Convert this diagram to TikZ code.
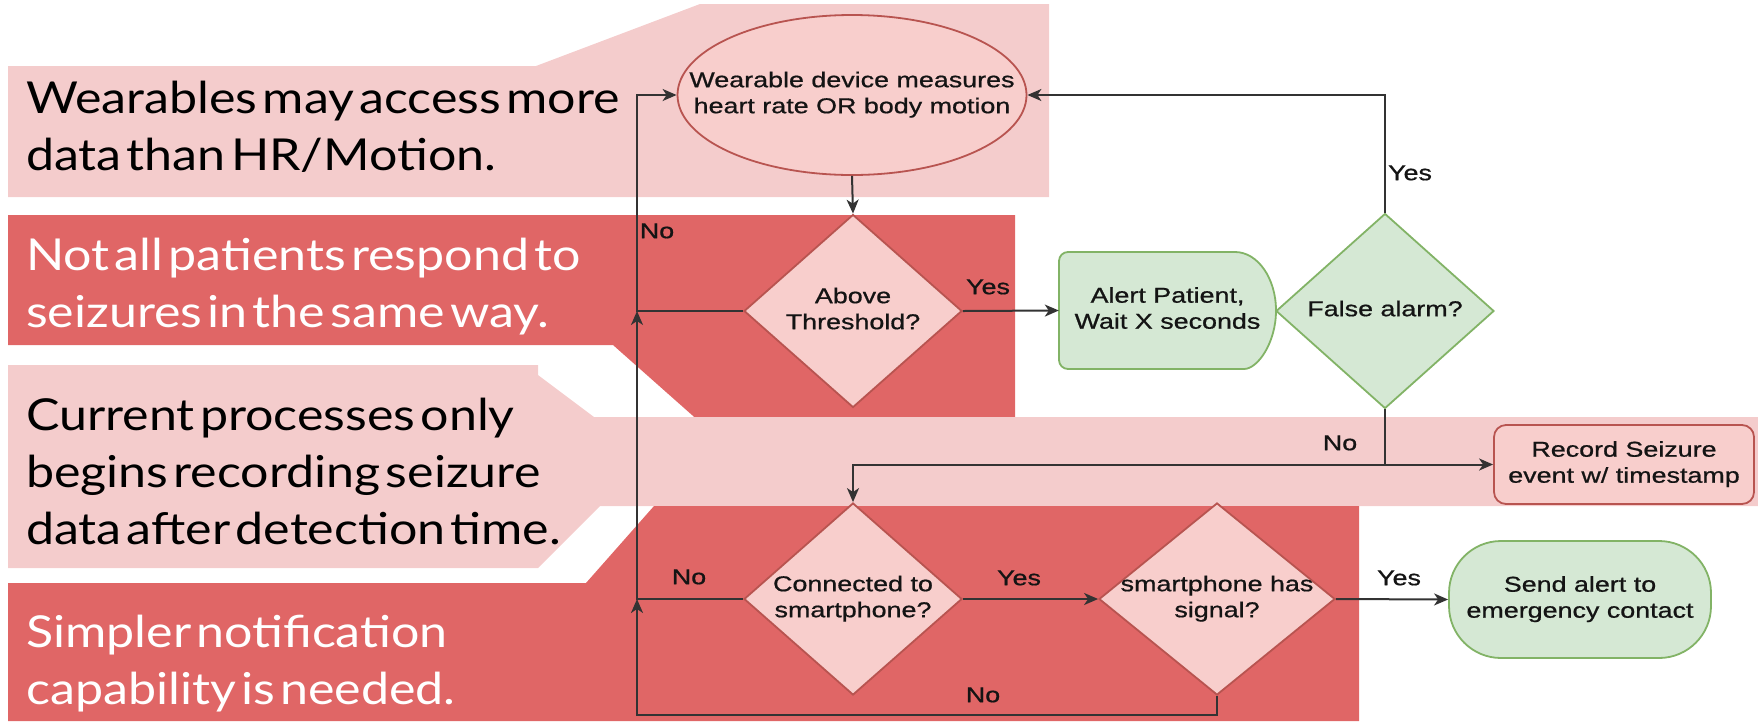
\documentclass[tikz,border=0pt]{standalone}
\usepackage{fontspec}
\usepackage{graphicx}
\setmainfont{Lato}[WordSpace=0.4]
\newfontfamily\fcfont{Liberation Sans}[FakeBold=0.7]
\usetikzlibrary{shapes.geometric,arrows.meta}
\definecolor{calLight}{HTML}{F4CCCC}
\definecolor{calDark}{HTML}{E06666}
\definecolor{pinkFill}{HTML}{F8CECC}
\definecolor{pinkLine}{HTML}{B85450}
\definecolor{greenFill}{HTML}{D5E8D4}
\definecolor{greenLine}{HTML}{82B366}
\definecolor{lineCol}{HTML}{333333}
\definecolor{fcText}{HTML}{141414}
\newcommand{\fctext}[1]{\makebox[0pt]{\scalebox{1.25}[1]{\fcfont\fontsize{21.5}{26}\selectfont\color{fcText}\begin{tabular}{@{}c@{}}#1\end{tabular}}}}
\newcommand{\bigtext}[1]{\scalebox{1.14}[1]{\fontsize{44}{57}\selectfont\begin{tabular}[t]{@{}l@{}}#1\end{tabular}}}
\tikzset{
  fcpink/.style={draw=pinkLine, fill=pinkFill, line width=1.8pt},
  fcgreen/.style={draw=greenLine, fill=greenFill, line width=1.8pt},
  dia/.style={diamond, inner sep=0pt},
  arr/.style={draw=lineCol, line width=2pt, -{Stealth[length=14pt,width=12pt,inset=4pt]}},
  lbl/.style={inner sep=0pt},
  callout/.style={anchor=base west, inner sep=0pt},
}
\begin{document}
\begin{tikzpicture}[x=1pt,y=-1pt]
\useasboundingbox (0,0) rectangle (1758,721);
% callout backgrounds
\fill[calLight] (8,66) -- (536,66) -- (700,4) -- (1049,4) -- (1049,197) -- (8,197) -- cycle;
\fill[calDark] (8,215) -- (1015,215) -- (1015,423) -- (701,423) -- (613,345) -- (8,345) -- cycle;
\fill[calLight] (8,365) -- (538,365) -- (538,375) -- (594,417) -- (1758,417) -- (1758,506) -- (600,506) -- (538,568) -- (8,568) -- cycle;
\fill[calDark] (8,583) -- (586,583) -- (654,506) -- (1359,506) -- (1359,721) -- (8,721) -- cycle;
% callout texts
\node[callout, text=black] (t1) at (26,113) {\bigtext{Wearables may access more\\data than HR/Motion.}};
\node[callout, text=white] (t2) at (26,270) {\bigtext{Not all patients respond to\\seizures in the same way.}};
\node[callout, text=black] (t3) at (26,430) {\bigtext{Current processes only\\begins recording seizure\\data after detection time.}};
\node[callout, text=white] (t4) at (26,647) {\bigtext{Simpler notification\\capability is needed.}};
% flowchart nodes
\node[fcpink, ellipse, minimum width=349pt, minimum height=160pt, inner sep=0pt] (wear) at (852,95) {\fctext{Wearable device measures\\heart rate OR body motion}};
\node[fcpink, dia, minimum width=218pt, minimum height=193pt] (above) at (853,311) {\fctext{Above\\Threshold?}};
\filldraw[fcgreen] (1235,252) [rounded corners=9pt] -- (1059,252) -- (1059,369) -- (1235,369) [sharp corners] .. controls (1257.6,369) and (1276,342.8) .. (1276,310.5) .. controls (1276,278.2) and (1257.6,252) .. (1235,252) -- cycle;
\node[minimum width=217pt, minimum height=117pt, inner sep=0pt] (alert) at (1167.5,310.5) {\fctext{Alert Patient,\\Wait X seconds}};
\node[fcgreen, dia, minimum width=218pt, minimum height=195pt] (false) at (1385,311) {\fctext{False alarm?}};
\node[fcpink, rounded corners=12pt, minimum width=260pt, minimum height=79pt, inner sep=0pt] (rec) at (1624,464.5) {\fctext{Record Seizure\\event w/ timestamp}};
\node[fcpink, dia, minimum width=218pt, minimum height=192pt] (cnx) at (853,599) {\fctext{Connected to\\smartphone?}};
\node[fcpink, dia, minimum width=236pt, minimum height=192pt] (signal) at (1217,599) {\fctext{smartphone has\\signal?}};
\node[fcgreen, rounded corners=52pt, minimum width=262pt, minimum height=117pt, inner sep=0pt] (send) at (1580,599.5) {\fctext{Send alert to\\emergency contact}};
% junctions
\coordinate (jA) at (637,311);
\coordinate (jB) at (637,599);
\coordinate (jC) at (637,715);
\coordinate (jD) at (1385,465);
% connectors
\draw[arr] (wear.south) -- (above.north);
\draw[arr] (above.east) -- (alert.west);
\draw[arr] (false.north) |- (wear.east);
\draw[arr] (above.west) -- (jA) |- (wear.west);
\draw[arr] (cnx.west) -- (jB) -- (jA);
\draw[arr] (signal.south) |- (jC) -- (jB);
\draw[arr] (cnx.east) -- (signal.west);
\draw[arr] (signal.east) -- (send.west);
\draw[arr] (false.south) |- (rec.west);
\draw[arr] (jD) -| (cnx.north);
% labels
\node[lbl] (lY1) at (988,289) {\fctext{Yes}};
\node[lbl] (lY2) at (1410,175) {\fctext{Yes}};
\node[lbl] (lN1) at (657,233) {\fctext{No}};
\node[lbl] (lN2) at (1340,445) {\fctext{No}};
\node[lbl] (lN3) at (689,579) {\fctext{No}};
\node[lbl] (lY3) at (1019,580) {\fctext{Yes}};
\node[lbl] (lY4) at (1399,580) {\fctext{Yes}};
\node[lbl] (lN4) at (983,697) {\fctext{No}};
\end{tikzpicture}
\end{document}
